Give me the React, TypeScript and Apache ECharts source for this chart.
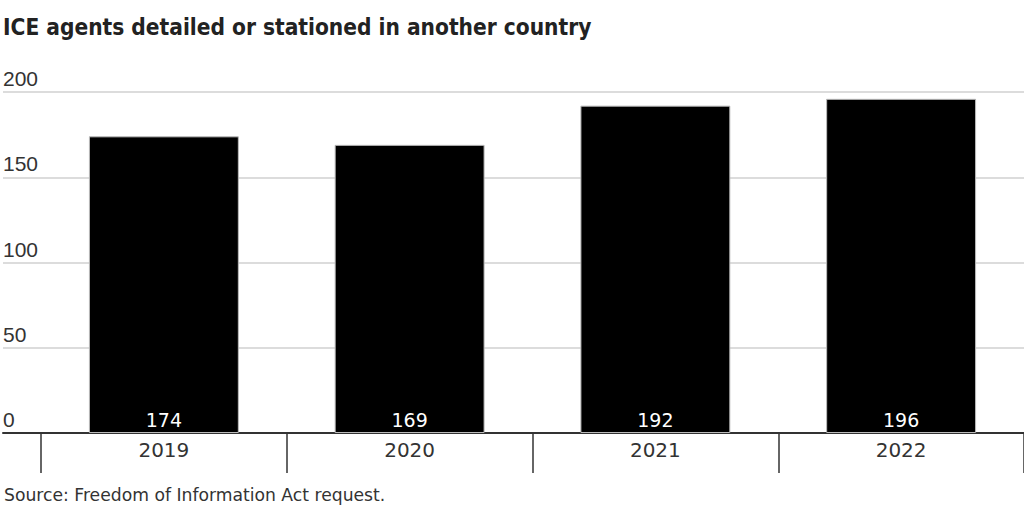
import React, { useEffect, useRef } from "react";
import * as echarts from "echarts";

const categories = ["2019", "2020", "2021", "2022"];
const agents = [174, 169, 192, 196];
const yTicks = [0, 50, 100, 150, 200];

const title = "ICE agents detailed or stationed in another country";
const source = "Source: Freedom of Information Act request.";

export default function App() {
  const ref = useRef<HTMLDivElement>(null);
  useEffect(() => {
    if (!ref.current) return;
    const chart = echarts.init(ref.current, null, { renderer: "svg" });
    const top = 92;
    const bottom = 79;
    const font = "'Liberation Sans', Arial, sans-serif";
    const font2 = "'DejaVu Sans', sans-serif";
    chart.setOption({
      animation: false,
      graphic: [
        {
          type: "text",
          left: 3,
          top: 15,
          style: {
            text: title,
            font: "bold 22.5px 'DejaVu Sans Condensed', 'Liberation Sans', sans-serif",
            fill: "#222",
          },
        },
        {
          type: "text",
          left: 4,
          top: 486,
          style: { text: source, font: "17.2px " + font2, fill: "#333" },
        },
      ],
      grid: [
        { left: 0, right: 0, top, bottom },
        { left: 41, right: 0, top, bottom },
      ],
      xAxis: [
        {
          gridIndex: 0,
          type: "value",
          min: 0,
          max: 1,
          axisLine: { show: true, onZero: false, lineStyle: { color: "#333", width: 2 } },
          axisTick: { show: false },
          axisLabel: { show: false },
          splitLine: { show: false },
        },
        {
          gridIndex: 1,
          type: "category",
          data: categories,
          axisLine: { show: false },
          axisTick: { show: true, length: 40, lineStyle: { color: "#333", width: 1.5 } },
          axisLabel: { color: "#333", fontSize: 20, fontFamily: font2, margin: 7 },
        },
      ],
      yAxis: [
        {
          gridIndex: 0,
          type: "value",
          min: 0,
          max: 200,
          interval: 50,
          axisLine: { show: false },
          axisTick: { show: false },
          axisLabel: {
            inside: true,
            margin: 0,
            align: "left",
            verticalAlign: "bottom",
            padding: [0, 0, 3, 0],
            color: "#333",
            fontSize: 21,
            fontFamily: font,
            formatter: (v: number) => (yTicks.includes(v) ? String(v) : ""),
          },
          splitLine: { show: true, lineStyle: { color: "#d0d0d0", width: 1.5 } },
        },
        {
          gridIndex: 1,
          type: "value",
          min: 0,
          max: 200,
          interval: 50,
          show: false,
          splitLine: { show: false },
        },
      ],
      series: [
        {
          type: "bar",
          xAxisIndex: 1,
          yAxisIndex: 1,
          data: agents,
          barWidth: "61%",
          itemStyle: { color: "#000", borderColor: "#bbb", borderWidth: 1 },
          label: {
            show: true,
            position: "insideBottom",
            distance: 4,
            color: "#fff",
            fontSize: 19,
            fontFamily: font2,
          },
        },
      ],
    });
    return () => chart.dispose();
  }, []);
  return (
    <div
      ref={ref}
      style={{ position: "fixed", left: 0, top: 0, width: 1024, height: 512, background: "#fff" }}
    />
  );
}
